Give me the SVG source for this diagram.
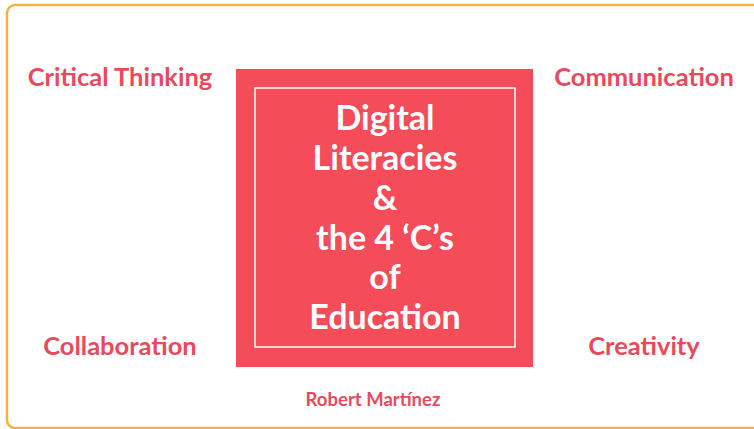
<svg xmlns="http://www.w3.org/2000/svg" width="754" height="429" viewBox="0 0 754 429">
<style>
.lbl{font-family:Lato,"Open Sans","Liberation Sans",sans-serif;font-weight:bold;fill:#e84a5d;text-anchor:middle}
.ttl{font-family:Lato,"Open Sans","Liberation Sans",sans-serif;font-weight:bold;fill:#ffffff;font-size:34px;text-anchor:middle}
</style>
<rect x="0" y="0" width="754" height="429" fill="#ffffff"/>
<rect x="7" y="5" width="770" height="423" rx="8" fill="none" stroke="#f5b142" stroke-width="2.5"/>
<g id="center">
<rect x="236" y="69" width="297" height="298" fill="#f44c59"/>
<rect x="255" y="88" width="260" height="259" fill="none" stroke="#ffffff" stroke-width="1.5"/>
<text class="ttl" x="385" y="130">Digital</text>
<text class="ttl" x="385" y="170">Literacies</text>
<text class="ttl" x="385" y="210">&amp;</text>
<text class="ttl" x="385" y="250">the 4 ‘C’s</text>
<text class="ttl" x="385" y="289">of</text>
<text class="ttl" x="385" y="329">Education</text>
</g>
<g id="critical"><text class="lbl" x="120" y="86" font-size="25.5">Critical Thinking</text></g>
<g id="communication"><text class="lbl" x="644" y="86" font-size="25.5">Communication</text></g>
<g id="collaboration"><text class="lbl" x="120" y="355" font-size="25.5">Collaboration</text></g>
<g id="creativity"><text class="lbl" x="644" y="355" font-size="25.5">Creativity</text></g>
<g id="author"><text class="lbl" x="373" y="406" font-size="18.5">Robert Martínez</text></g>
<g id="connectors"/>
</svg>
